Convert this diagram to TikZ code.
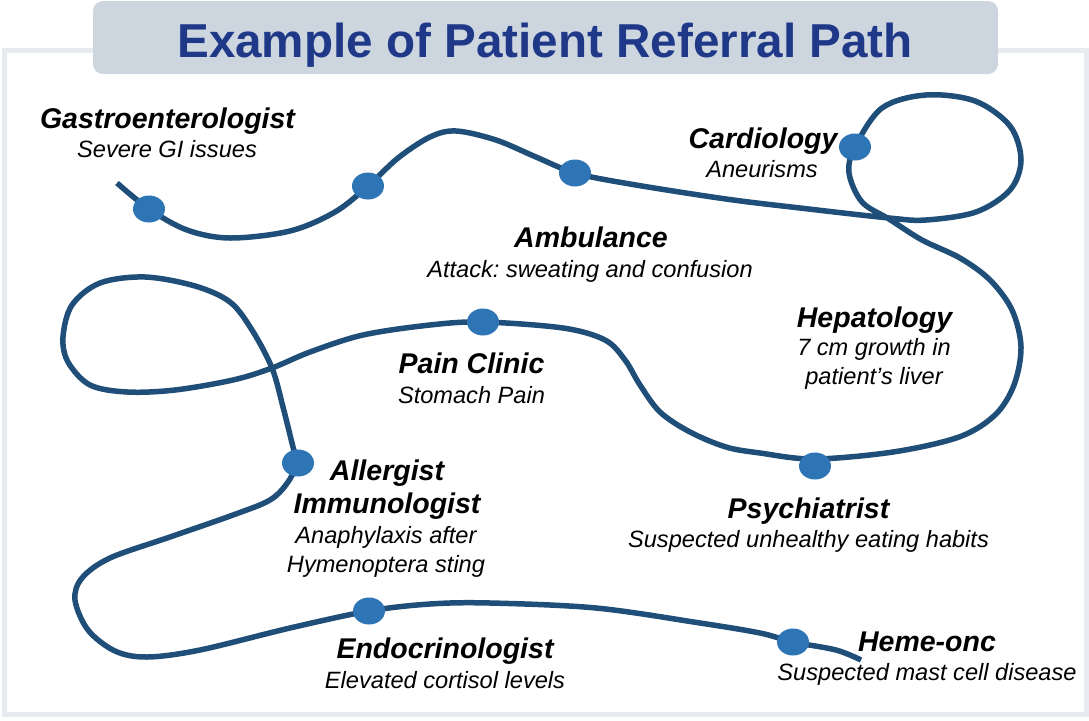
\documentclass[tikz,border=0pt]{standalone}
\usepackage{fontspec}
\setmainfont{Liberation Sans}
\usetikzlibrary{shapes.geometric}
\frenchspacing
\definecolor{routeblue}{RGB}{31,78,121}
\definecolor{stopblue}{RGB}{46,117,182}
\definecolor{titleblue}{RGB}{31,56,136}
\definecolor{titlebox}{RGB}{205,213,223}
\definecolor{framegray}{RGB}{232,236,241}
\tikzset{
    RT/.style ={draw=routeblue,line width=5.5pt},
    DT/.style ={ellipse,fill=stopblue,minimum width=32pt,minimum height=27pt,inner sep=0pt},
    HD/.style ={font=\fontsize{28.5}{33}\selectfont\bfseries\itshape,anchor=base,align=center,inner sep=0pt},
    SB/.style ={font=\fontsize{23.6}{29}\selectfont\itshape,anchor=base,align=center,inner sep=0pt},
    TT/.style ={font=\fontsize{47.6}{52}\selectfont\bfseries,text=titleblue,anchor=base,inner sep=0pt}
}
\begin{document}
\begin{tikzpicture}[x=1pt,y=-1pt]
            \useasboundingbox (0,0) rectangle (1089,720);
            \draw[framegray,line width=5pt] (4.5,50.5) rectangle (1086,714.5);
            \fill[titlebox,rounded corners=10pt] (93,1) rectangle (998,74);
            \draw (545,57) node[TT] (title) {Example of Patient Referral Path};
            \coordinate (gastro) at (149,209);
            \coordinate (second) at (368,186);
            \coordinate (amb) at (575,173);
            \coordinate (cardio) at (855,147);
            \coordinate (psych) at (815,466);
            \coordinate (pain) at (483,322);
            \coordinate (aller) at (298,463);
            \coordinate (endo) at (369,611);
            \coordinate (heme) at (793,642);
            \draw[RT] plot[smooth,tension=0.55] coordinates {(117,183) (gastro) (187,230) (230,238) (290,231) (335,212) (second) (398,158) (430,137) (456,131) (496,140) (536,157) (amb) (630,184) (726,199) (800,208) (889,218) (926,220) (976,212) (1010,190) (1021,160) (1010,126) (975,101) (926,95) (882,108) (cardio) (849,173) (862,202) (889,219) (922,240) (960,258) (990,280) (1012,310) (1021,347) (1014,385) (995,415) (959,437) (893,452) (814,459) (760,453) (726,447) (690,432) (660,412) (640,385) (625,360) (605,340) (563,328) (pain) (430,325) (363,335) (310,352) (272,368) (233,380) (175,390) (127,392) (90,385) (68,362) (63,337) (72,305) (100,283) (145,277) (195,286) (230,302) (252,330) (272,368) (283,407) (293,447) (297,462) (288,482) (270,500) (233,515) (170,537) (110,558) (82,578) (75,600) (88,630) (115,651) (147,657) (200,650) (290,628) (endo) (430,604) (490,603) (596,608) (700,623) (760,633) (heme) (836,650) (861,660)};
            \draw (gastro) node[DT] (gastroD) {};
            \draw (second) node[DT] (secondD) {};
            \draw (amb) node[DT] (ambD) {};
            \draw (cardio) node[DT] (cardioD) {};
            \draw (psych) node[DT] (psychD) {};
            \draw (pain) node[DT] (painD) {};
            \draw (aller) node[DT] (allerD) {};
            \draw (endo) node[DT] (endoD) {};
            \draw (heme) node[DT] (hemeD) {};
            \draw (167.5,128.5) node[HD] (gastroT) {Gastroenterologist};
            \draw (167,157) node[SB] (gastroS) {Severe GI issues};
            \draw (763,148) node[HD] (cardioT) {Cardiology};
            \draw (762,177) node[SB] (cardioS) {Aneurisms};
            \draw (591,247) node[HD] (ambT) {Ambulance};
            \draw (590,277) node[SB] (ambS) {Attack: sweating and confusion};
            \draw (874.5,327) node[HD] (hepT) {Hepatology};
            \draw (874,384) node[SB] (hepS) {7 cm growth in\\patient’s liver};
            \draw (471.5,373) node[HD] (painT) {Pain Clinic};
            \draw (471.5,403) node[SB] (painS) {Stomach Pain};
            \draw (387,513) node[HD] (allerT) {Allergist\\Immunologist};
            \draw (386,572) node[SB] (allerS) {Anaphylaxis after\\Hymenoptera sting};
            \draw (808.5,518) node[HD] (psychT) {Psychiatrist};
            \draw (808.5,547) node[SB] (psychS) {Suspected unhealthy eating habits};
            \draw (445,658) node[HD] (endoT) {Endocrinologist};
            \draw (445,688) node[SB] (endoS) {Elevated cortisol levels};
            \draw (927,651) node[HD] (hemeT) {Heme-onc};
            \draw (927,680) node[SB] (hemeS) {Suspected mast cell disease};
        \end{tikzpicture}
\end{document}
